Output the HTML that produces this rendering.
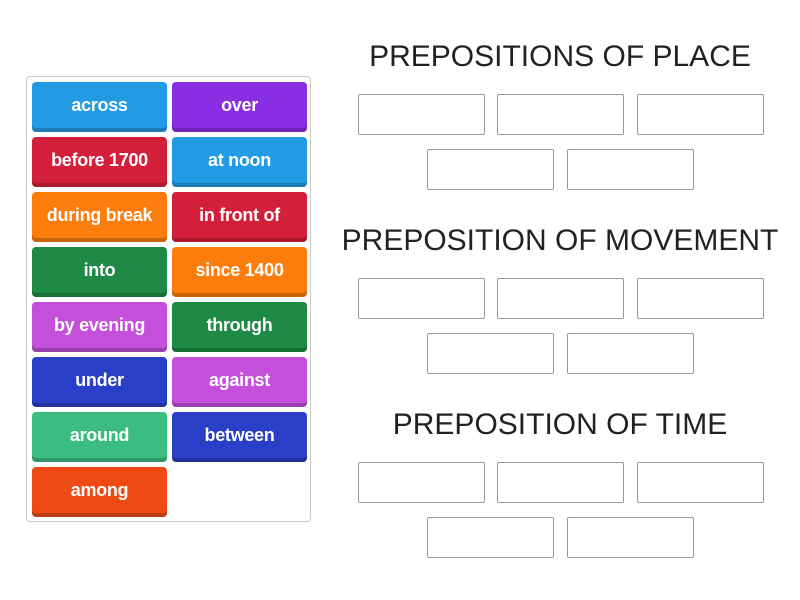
<!DOCTYPE html>
<html><head><style>
body{margin:0;width:800px;height:600px;background:#fff;position:relative;font-family:"Liberation Sans",sans-serif;overflow:hidden}
.panel{position:absolute;left:26px;top:76px;width:285px;height:446px;border:1px solid #c8c8c8;border-radius:4px;box-sizing:border-box}
.t{position:absolute;width:135px;height:50px;border-radius:4px;color:#fff;font-weight:bold;font-size:18px;line-height:46px;text-align:center;box-shadow:inset 0 -4px 0 rgba(0,0,0,.2);white-space:nowrap;letter-spacing:-.3px}
.h{position:absolute;left:340px;width:440px;text-align:center;font-size:30px;color:#222}
.b{position:absolute;width:127px;height:41px;border:1px solid #999;box-sizing:border-box;border-radius:2px}
</style></head><body>
<div class="panel"></div>
<div class="t" style="left:32px;top:82px;background:#229be4">across</div>
<div class="t" style="left:172px;top:82px;background:#8a2ee4">over</div>
<div class="t" style="left:32px;top:137px;background:#d41f3a">before 1700</div>
<div class="t" style="left:172px;top:137px;background:#229be4">at noon</div>
<div class="t" style="left:32px;top:192px;background:#fd7d0c">during break</div>
<div class="t" style="left:172px;top:192px;background:#d41f3a">in front of</div>
<div class="t" style="left:32px;top:247px;background:#1e8a45">into</div>
<div class="t" style="left:172px;top:247px;background:#fd7d0c">since 1400</div>
<div class="t" style="left:32px;top:302px;background:#c44fda">by evening</div>
<div class="t" style="left:172px;top:302px;background:#1e8a45">through</div>
<div class="t" style="left:32px;top:357px;background:#2a3fc8">under</div>
<div class="t" style="left:172px;top:357px;background:#c44fda">against</div>
<div class="t" style="left:32px;top:412px;background:#3cbd80">around</div>
<div class="t" style="left:172px;top:412px;background:#2a3fc8">between</div>
<div class="t" style="left:32px;top:467px;background:#f04a14">among</div>

<div class="h" style="top:40px">PREPOSITIONS OF PLACE</div>
<div class="h" style="top:224px">PREPOSITION OF MOVEMENT</div>
<div class="h" style="top:408px">PREPOSITION OF TIME</div>

<div class="b" style="left:358px;top:94px"></div><div class="b" style="left:497px;top:94px"></div><div class="b" style="left:637px;top:94px"></div>
<div class="b" style="left:427px;top:149px"></div><div class="b" style="left:567px;top:149px"></div>
<div class="b" style="left:358px;top:278px"></div><div class="b" style="left:497px;top:278px"></div><div class="b" style="left:637px;top:278px"></div>
<div class="b" style="left:427px;top:333px"></div><div class="b" style="left:567px;top:333px"></div>
<div class="b" style="left:358px;top:462px"></div><div class="b" style="left:497px;top:462px"></div><div class="b" style="left:637px;top:462px"></div>
<div class="b" style="left:427px;top:517px"></div><div class="b" style="left:567px;top:517px"></div>
</body></html>
